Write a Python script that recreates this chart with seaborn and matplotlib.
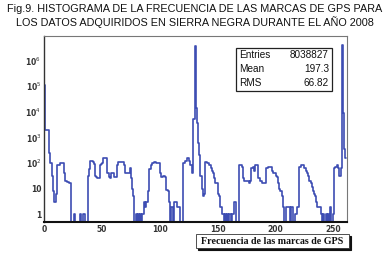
import numpy as np
import pandas as pd
import matplotlib
matplotlib.use("Agg")
import matplotlib.pyplot as plt
import matplotlib.ticker as mticker
from matplotlib.patches import Rectangle
import seaborn as sns

# ---- data (counts per unit-width bin, starting at 0) ----
counts = [
    110000, 2000, 2000, 2000, 250, 100, 100, 30, 8, 3,
    6, 80, 80, 80, 100, 100, 100, 40, 20, 20,
    18, 18, 16, 0, 0, 0, 1, 0, 0, 0,
    0, 1, 0, 0, 1, 0, 0, 0, 30, 60,
    125, 125, 110, 90, 30, 28, 25, 25, 80, 90,
    100, 160, 160, 150, 40, 40, 28, 25, 40, 40,
    28, 28, 28, 80, 110, 110, 110, 110, 110, 80,
    40, 40, 40, 40, 63, 25, 10, 5, 0, 1,
    0, 1, 0, 1, 0, 1, 3, 2, 3, 3,
    8, 60, 80, 100, 100, 110, 110, 100, 100, 100,
    40, 28, 28, 30, 28, 9, 9, 8, 3, 0,
    2, 0, 3, 3, 3, 2, 2, 0, 0, 0,
    100, 100, 125, 160, 160, 125, 80, 80, 40, 5000,
    3750000, 14000, 3500, 600, 200, 30, 10, 5, 6, 110,
    110, 100, 80, 80, 63, 50, 40, 25, 16, 16,
    6, 5, 2, 2, 1, 0, 1, 0, 1, 0,
    1, 0, 1, 1, 3, 3, 0, 0, 80, 80,
    80, 70, 25, 20, 20, 20, 20, 16, 20, 63,
    70, 50, 80, 80, 80, 25, 20, 20, 16, 16,
    16, 16, 63, 70, 70, 70, 70, 50, 40, 40,
    32, 28, 16, 10, 8, 5, 2, 0, 0, 2,
    2, 2, 0, 2, 2, 0, 0, 1, 2, 2,
    70, 70, 80, 80, 63, 63, 50, 40, 32, 20,
    16, 12, 8, 6, 5, 3, 2, 2, 2, 1,
    0, 1, 0, 1, 0, 1, 0, 2, 0, 1,
    63, 70, 70, 80, 63, 30, 63, 4130000, 9000, 350,
    160,
]
x_ticks = [0, 50, 100, 150, 200, 250]
y_ticks = [1, 10, 100, 1e3, 1e4, 1e5, 1e6]
y_tick_labels = ["1", "10", "10$^{2}$", "10$^{3}$", "10$^{4}$", "10$^{5}$", "10$^{6}$"]
stats_names = ["Entries", "Mean", "RMS"]
stats_values = ["8038827", "197.3", "66.82"]
title_text = ("Fig.9. HISTOGRAMA DE LA FRECUENCIA DE LAS MARCAS DE GPS PARA\n"
              "LOS DATOS ADQUIRIDOS EN SIERRA NEGRA DURANTE EL AÑO 2008")
xlabel_text = "Frecuencia de las marcas de GPS"

sns.set_style("white")
plt.rcParams['font.family'] = ['Liberation Sans', 'DejaVu Sans']

W, H = 390, 256
fig = plt.figure(figsize=(W / 100, H / 100), dpi=100)
fig.patch.set_facecolor("white")
ax = fig.add_axes([44 / W, 1 - 222 / H, (347 - 44) / W, (222 - 36) / H])

n = len(counts)
edges = [float(i) for i in range(n + 1)]
df = pd.DataFrame({"freq": np.arange(n) + 0.5, "count": np.asarray(counts, dtype=float)})
sns.histplot(data=df, x="freq", weights="count", bins=edges, element="step", fill=False,
             color="#3d4db3", linewidth=1.2, ax=ax)
ax.set_yscale("log")
ax.set_xlim(0, 261.5)
ax.set_ylim(0.5, 9e6)
ax.set_xlabel("")
ax.set_ylabel("")

ax.set_xticks(x_ticks)
ax.set_xticklabels([str(t) for t in x_ticks])
ax.xaxis.set_minor_locator(mticker.MultipleLocator(12.5))
ax.set_yticks(y_ticks)
ax.set_yticklabels(y_tick_labels)
ax.yaxis.set_minor_locator(mticker.LogLocator(base=10, subs=np.arange(2, 10)))
ax.yaxis.set_minor_formatter(mticker.NullFormatter())
ax.tick_params(axis="both", which="major", direction="in", labelsize=5.5,
               colors="#222222", labelcolor="#333333", pad=2)
ax.tick_params(axis="y", which="major", length=8, width=0.8)
ax.tick_params(axis="y", which="minor", direction="in", length=4, width=0.6, colors="#222222")
ax.tick_params(axis="x", which="major", length=5, width=0.8)
ax.tick_params(axis="x", which="minor", direction="in", length=3, width=0.6, colors="#222222")
for lab in ax.get_xticklabels() + ax.get_yticklabels():
    lab.set_fontweight("bold")
    lab.set_family(["DejaVu Sans"])

for side in ["top", "right"]:
    ax.spines[side].set_color("#777777")
    ax.spines[side].set_linewidth(0.8)
ax.spines["left"].set_color("#333333")
ax.spines["left"].set_linewidth(1.0)
ax.spines["bottom"].set_color("#111111")
ax.spines["bottom"].set_linewidth(1.5)

# title
fig.text(0.5, 1 - 16 / H, title_text, ha="center", va="center", fontsize=7.8,
         linespacing=1.2, color="#111111")

# stats box
bx0, by0, bx1, by1 = 236, 48, 332, 91
fig.patches.append(Rectangle((bx0 / W, 1 - by1 / H), (bx1 - bx0) / W, (by1 - by0) / H,
                             transform=fig.transFigure, facecolor="white",
                             edgecolor="#222222", linewidth=0.9, zorder=5))
for i, (nm, val) in enumerate(zip(stats_names, stats_values)):
    yy = 1 - (by0 + 7.5 + i * 14) / H
    fig.text((bx0 + 3) / W, yy, nm, ha="left", va="center", fontsize=7.2,
             family=["Liberation Sans", "DejaVu Sans"], color="#111111", zorder=6)
    fig.text((bx1 - 3) / W, yy, val, ha="right", va="center", fontsize=7.2,
             family=["Liberation Sans", "DejaVu Sans"], color="#111111", zorder=6)

# x label box with shadow
lx0, ly0, lx1, ly1 = 196, 234, 349, 248
fig.patches.append(Rectangle(((lx0 + 2) / W, 1 - (ly1 + 2) / H), (lx1 - lx0) / W, (ly1 - ly0) / H,
                             transform=fig.transFigure, facecolor="#111111",
                             edgecolor="#111111", linewidth=0.8, zorder=4))
fig.patches.append(Rectangle((lx0 / W, 1 - ly1 / H), (lx1 - lx0) / W, (ly1 - ly0) / H,
                             transform=fig.transFigure, facecolor="white",
                             edgecolor="#333333", linewidth=0.6, zorder=5))
fig.text((lx0 + lx1) / 2 / W, 1 - (ly0 + ly1) / 2 / H, xlabel_text, ha="center", va="center",
         fontsize=7.2, fontweight="bold", family=["Liberation Serif", "DejaVu Serif"],
         color="#111111", zorder=6)

fig.savefig("out.png", dpi=100, facecolor="white")
